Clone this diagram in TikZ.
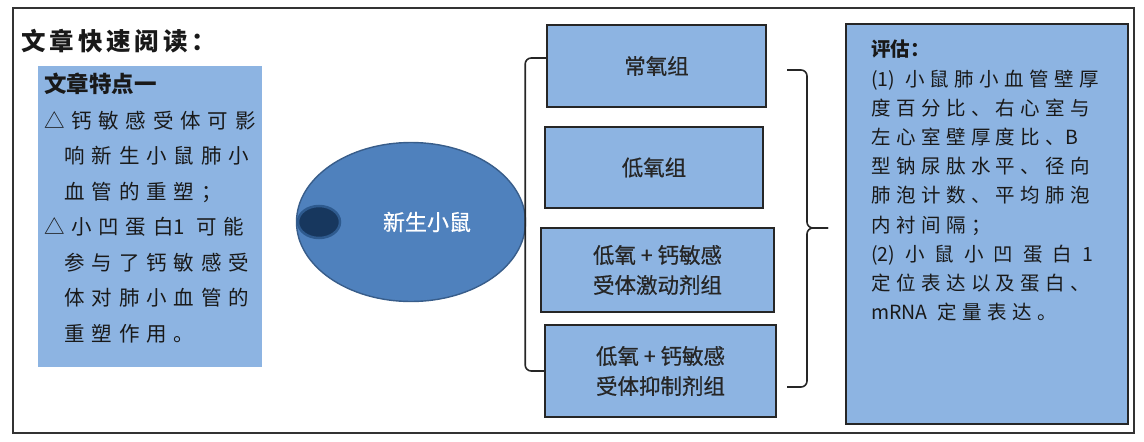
\documentclass[tikz,border=0pt]{standalone}
\usepackage{fontspec}
\setmainfont{Liberation Sans}
\newfontfamily\cjk{Noto Sans CJK SC}
\newfontfamily\cjkm[FakeBold=0.6]{Noto Sans CJK SC}
\newfontfamily\cjktitle[LetterSpace=16]{Noto Sans CJK SC}
\newfontfamily\cjksp[LetterSpace=33]{Noto Sans CJK SC}
\newfontfamily\cjkspr[LetterSpace=28]{Noto Sans CJK SC}
\usetikzlibrary{shapes.geometric}
\definecolor{lblue}{RGB}{141,180,226}
\definecolor{mblue}{RGB}{79,129,189}
\definecolor{edgeblue}{RGB}{56,93,138}
\definecolor{dblue}{RGB}{23,55,94}
\definecolor{ringblue}{RGB}{46,90,142}
\begin{document}
\begin{tikzpicture}[x=1pt,y=-1pt,
  grp/.style={draw=black!85, line width=1.6pt, fill=lblue, align=center,
    font=\cjkm\fontsize{21.5}{30}\selectfont, text=black!85},
  brk/.style={draw=black!85, line width=1.6pt, rounded corners=6pt},
  panel/.style={fill=lblue, anchor=north west, inner sep=0pt}]
\useasboundingbox (0,0) rectangle (1144,442);
% outer frame
\node[draw=black!80, line width=1.5pt, anchor=north west, minimum width=1121pt, minimum height=425pt, inner sep=0pt] (frame) at (12,7) {};
% title
\node[anchor=west, inner sep=0pt, font=\cjktitle\bfseries\fontsize{24.5}{24.5}\selectfont, text=black!90] (title) at (21,41) {文章快速阅读：};
% left feature panel
\node[panel, minimum width=224pt, minimum height=301pt] (feat) at (38,66) {};
\node[anchor=north west, inner sep=0pt, align=left, text=black!90,
  font=\cjksp\fontsize{20.5}{35.5}\selectfont] (feattxt) at (44,73)
  {{\cjk\bfseries\fontsize{22.5}{35.5}\selectfont 文章特点一}\\
   △钙敏感受体可影\\
   \hphantom{△}响新生小鼠肺小\\
   \hphantom{△}血管的重塑；\\
   △小凹蛋白{\cjk 1} 可能\\
   \hphantom{△}参与了钙敏感受\\
   \hphantom{△}体对肺小血管的\\
   \hphantom{△}重塑作用。};
% mouse ellipse
\node[ellipse, draw=edgeblue, line width=1.4pt, fill=mblue, minimum width=229pt, minimum height=159pt, inner sep=0pt] (mouse) at (411,222) {};
\node[ellipse, draw=ringblue, line width=2.5pt, fill=dblue, minimum width=42pt, minimum height=32pt, inner sep=0pt] (eye) at (319,222) {};
\node[text=white, inner sep=0pt, font=\cjkm\fontsize{22}{22}\selectfont] (mtxt) at (427,222) {新生小鼠};
% group boxes
\node[grp, minimum width=219pt, minimum height=82pt] (b1) at (656.5,66) {常氧组};
\node[grp, minimum width=218pt, minimum height=81pt] (b2) at (654,167.5) {低氧组};
\node[grp, minimum width=233pt, minimum height=84pt] (b3) at (657.5,270) {低氧 + 钙敏感\\受体激动剂组};
\node[grp, minimum width=231pt, minimum height=92pt] (b4) at (660.5,371) {低氧 + 钙敏感\\受体抑制剂组};
% left bracket
\draw[brk] ([yshift=8pt]b1.west) -- ++(-21,0) |- (b4.west);
% right brace
\coordinate (rt) at (787,70);
\coordinate (rb) at (787,387);
\coordinate (bm) at (807,228);
\coordinate (tip) at (828,228);
\draw[brk] (rt) -| (bm) -- (tip);
\draw[brk] (rb) -| (bm) -- (tip);
% evaluation box
\node[draw=black!85, line width=1.6pt, fill=lblue, anchor=north west, minimum width=282pt, minimum height=400pt, inner sep=0pt] (eval) at (845,23) {};
\node[anchor=north west, inner sep=0pt, align=left, text=black!90,
  font=\cjkspr\fontsize{19.5}{29.2}\selectfont] (evaltxt) at (871,40)
  {{\cjk\bfseries 评估：}\\
   {\cjk (1)} 小鼠肺小血管壁厚\\
   度百分比、右心室与\\
   左心室壁厚度比、{\cjk B}\\
   型钠尿肽水平、径向\\
   肺泡计数、平均肺泡\\
   内衬间隔；\\
   \makebox[222pt][s]{{\cjk (2)} 小 鼠 小 凹 蛋 白 {\cjk 1}}\\
   定位表达以及蛋白、\\
   {\cjk mRNA} 定量表达。};
\end{tikzpicture}
\end{document}
